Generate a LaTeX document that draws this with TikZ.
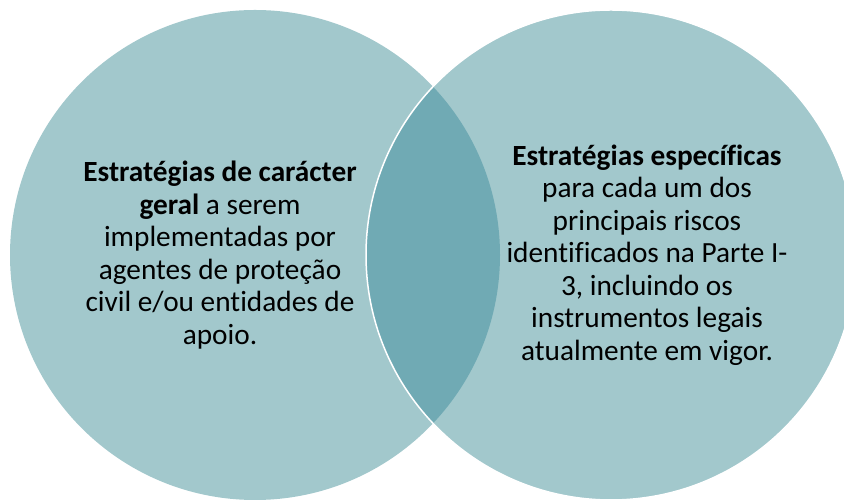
\documentclass[tikz,border=0pt]{standalone}
\usepackage{fontspec}
\setmainfont{Carlito}[Ligatures=NoCommon]
\usepackage{tikz}

\definecolor{kreishell}{RGB}{162,200,204}
\definecolor{kreisdunkel}{RGB}{112,170,180}

\tikzset{
	texto/.style={align=center, text=black, font=\fontsize{29.3}{32.5}\selectfont},
}

\begin{document}
\begin{tikzpicture}[x=1pt, y=1pt]
	\useasboundingbox (0,0) rectangle (844,500); % Rand um Grafik
	
	\fill[kreishell] (255,245) circle[radius=245]; % linker Kreis
	\fill[kreishell] (611,245) circle[radius=245]; % rechter Kreis
	
	\begin{scope} %Schnittmenge färben
		\clip (255,245) circle[radius=245];
		\fill[kreisdunkel] (611,245) circle[radius=245];
	\end{scope}
	
	\draw[white, line width=1.5pt] (611,245) circle[radius=245];
	
	\node[texto] (geral) at (220,245) {\textbf{Estratégias de carácter}\\
		\textbf{geral} a serem\\ implementadas por\\ agentes de proteção\\
		civil e/ou entidades de\\ apoio.};
	\node[texto] (especificas) at (647,245) {\textbf{Estratégias específicas}\\
		para cada um dos\\ principais riscos\\ identificados na Parte I-\\
		3, incluindo os\\ instrumentos legais\\ atualmente em vigor.};
	
	%\draw[help lines, step=50] (0,0) grid (844,500);
\end{tikzpicture}
\end{document}
